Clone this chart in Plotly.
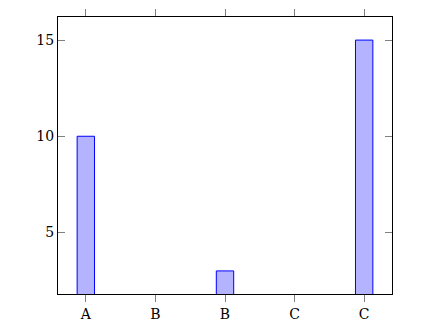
import plotly.graph_objects as go

positions = [1, 2, 3, 4, 5]
tick_labels = ["A", "B", "B", "C", "C"]
values = [10, None, 3, None, 15]
y_ticks = [5, 10, 15]

fig = go.Figure()
fig.add_trace(go.Bar(
    x=positions, y=values, width=0.25,
    marker=dict(color="rgb(179,179,255)", line=dict(color="blue", width=1)),
))

font = dict(family="DejaVu Serif", size=14, color="black")
fig.update_layout(
    width=426, height=330,
    margin=dict(l=58, r=34, t=17, b=36, autoexpand=False),
    paper_bgcolor="white", plot_bgcolor="white",
    showlegend=False, font=font,
)
fig.update_xaxes(
    range=[0.6, 5.4], tickmode="array", tickvals=positions, ticktext=tick_labels,
    ticks="outside", ticklen=7, tickcolor="gray", tickwidth=1,
    showline=True, linecolor="black", linewidth=1, mirror="ticks",
    showgrid=False, zeroline=False, automargin=False, tickfont=font,
)
fig.update_yaxes(
    range=[1.8, 16.2], tickmode="array", tickvals=y_ticks,
    ticks="inside", ticklen=7, tickcolor="gray", tickwidth=1,
    showline=True, linecolor="black", linewidth=1, mirror="ticks",
    showgrid=False, zeroline=False, automargin=False, tickfont=font,
)
fig.write_html("out.html")
